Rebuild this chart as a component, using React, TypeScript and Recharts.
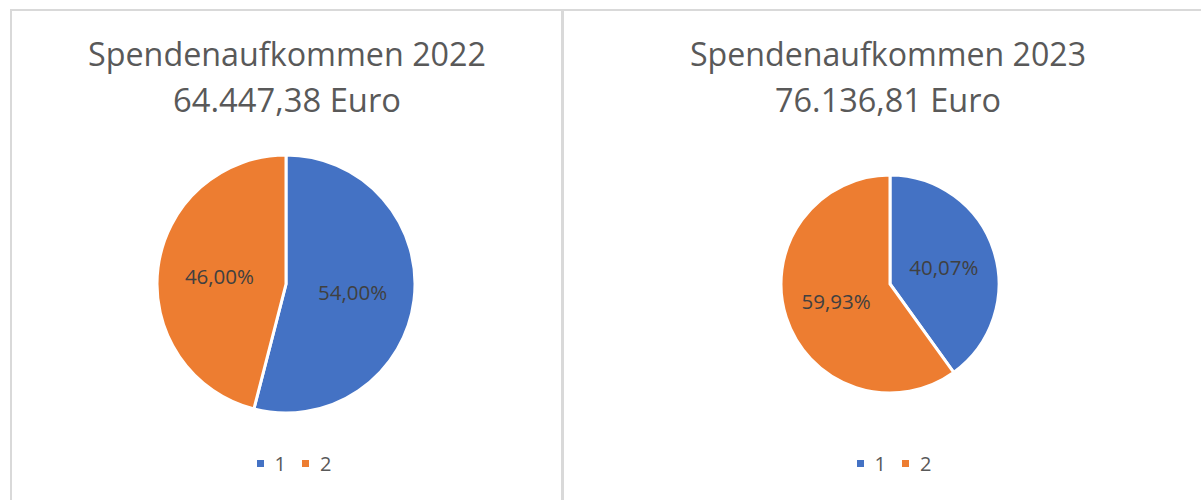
import React from "react";
import { PieChart, Pie, Cell, Legend } from "recharts";

const categories = ["1", "2"];
const values2022 = [54.0, 46.0];
const values2023 = [40.07, 59.93];
const titles2022 = ["Spendenaufkommen 2022", "64.447,38 Euro"];
const titles2023 = ["Spendenaufkommen 2023", "76.136,81 Euro"];
const colors = ["#4472C4", "#ED7D31"];

const FONT = "'Open Sans', 'Noto Sans', sans-serif";

const fmt = (v: number) => v.toFixed(2).replace(".", ",") + "%";

const RADIAN = Math.PI / 180;

const makeLabel = (frac: number) => (props: any) => {
  const { cx, cy, midAngle, outerRadius, value } = props;
  const r = outerRadius * frac;
  const x = cx + r * Math.cos(-midAngle * RADIAN);
  const y = cy + r * Math.sin(-midAngle * RADIAN);
  return (
    <text
      x={x}
      y={y}
      fill="#404040"
      fontFamily={FONT}
      fontSize={20.5}
      textAnchor="middle"
      dominantBaseline="central"
    >
      {fmt(value)}
    </text>
  );
};

const LegendContent = () => (
  <div style={{ display: "flex", justifyContent: "center", alignItems: "center", fontFamily: FONT, fontSize: 20, color: "#595959" }}>
    {categories.map((c, i) => (
      <div key={c} style={{ display: "flex", alignItems: "center", marginRight: i === 0 ? 16 : 0 }}>
        <div style={{ width: 7, height: 7, background: colors[i], marginRight: 11 }} />
        <span>{c}</span>
      </div>
    ))}
  </div>
);

type PanelProps = {
  left: number;
  width: number;
  values: number[];
  titles: string[];
  titleCx: number;
  titleW: [number, number];
  cx: number;
  radius: number;
  legendCx: number;
};

const Panel = ({ left, width, values, titles, titleCx, titleW, cx, radius, legendCx }: PanelProps) => {
  const data = categories.map((c, i) => ({ name: c, value: values[i] }));
  return (
    <div style={{ position: "absolute", left, top: 0, width, height: 500 }}>
      <svg style={{ position: "absolute", left: 0, top: 0 }} width={width} height={130}>
        <text x={titleCx} y={66} textAnchor="middle" fontFamily={FONT} fontSize={33} fill="#595959" textLength={titleW[0]} lengthAdjust="spacingAndGlyphs">
          {titles[0]}
        </text>
        <text x={titleCx} y={112} textAnchor="middle" fontFamily={FONT} fontSize={33} fill="#595959" textLength={titleW[1]} lengthAdjust="spacingAndGlyphs">
          {titles[1]}
        </text>
      </svg>
      <div style={{ position: "absolute", left: 0, top: 0 }}>
        <PieChart width={width} height={500} margin={{ top: 0, right: 0, bottom: 0, left: 0 }}>
          <Pie
            data={data}
            dataKey="value"
            nameKey="name"
            cx={cx}
            cy={284}
            outerRadius={radius}
            startAngle={90}
            endAngle={-270}
            stroke="#ffffff"
            strokeWidth={3}
            label={makeLabel(0.52)}
            labelLine={false}
            isAnimationActive={false}
          >
            {data.map((d, i) => (
              <Cell key={d.name} fill={colors[i]} />
            ))}
          </Pie>
          <Legend
            content={<LegendContent />}
            wrapperStyle={{ position: "absolute", top: 450, left: legendCx - 150, width: 300 }}
          />
        </PieChart>
      </div>
    </div>
  );
};

export default function App() {
  return (
    <div style={{ position: "absolute", left: 0, top: 0, width: 1201, height: 500, background: "#ffffff", overflow: "hidden" }}>
      {/* borders */}
      <div style={{ position: "absolute", left: 10, top: 9, width: 1191, height: 2, background: "#d9d9d9" }} />
      <div style={{ position: "absolute", left: 10, top: 9, width: 2, height: 491, background: "#d9d9d9" }} />
      <div style={{ position: "absolute", left: 561, top: 9, width: 3, height: 491, background: "#d9d9d9" }} />
      <Panel
        left={0}
        width={562}
        values={values2022}
        titles={titles2022}
        titleCx={287}
        titleW={[398, 228]}
        cx={286}
        radius={129}
        legendCx={294}
      />
      <Panel
        left={564}
        width={637}
        values={values2023}
        titles={titles2023}
        titleCx={324}
        titleW={[396, 226]}
        cx={326}
        radius={109}
        legendCx={330}
      />
    </div>
  );
}
